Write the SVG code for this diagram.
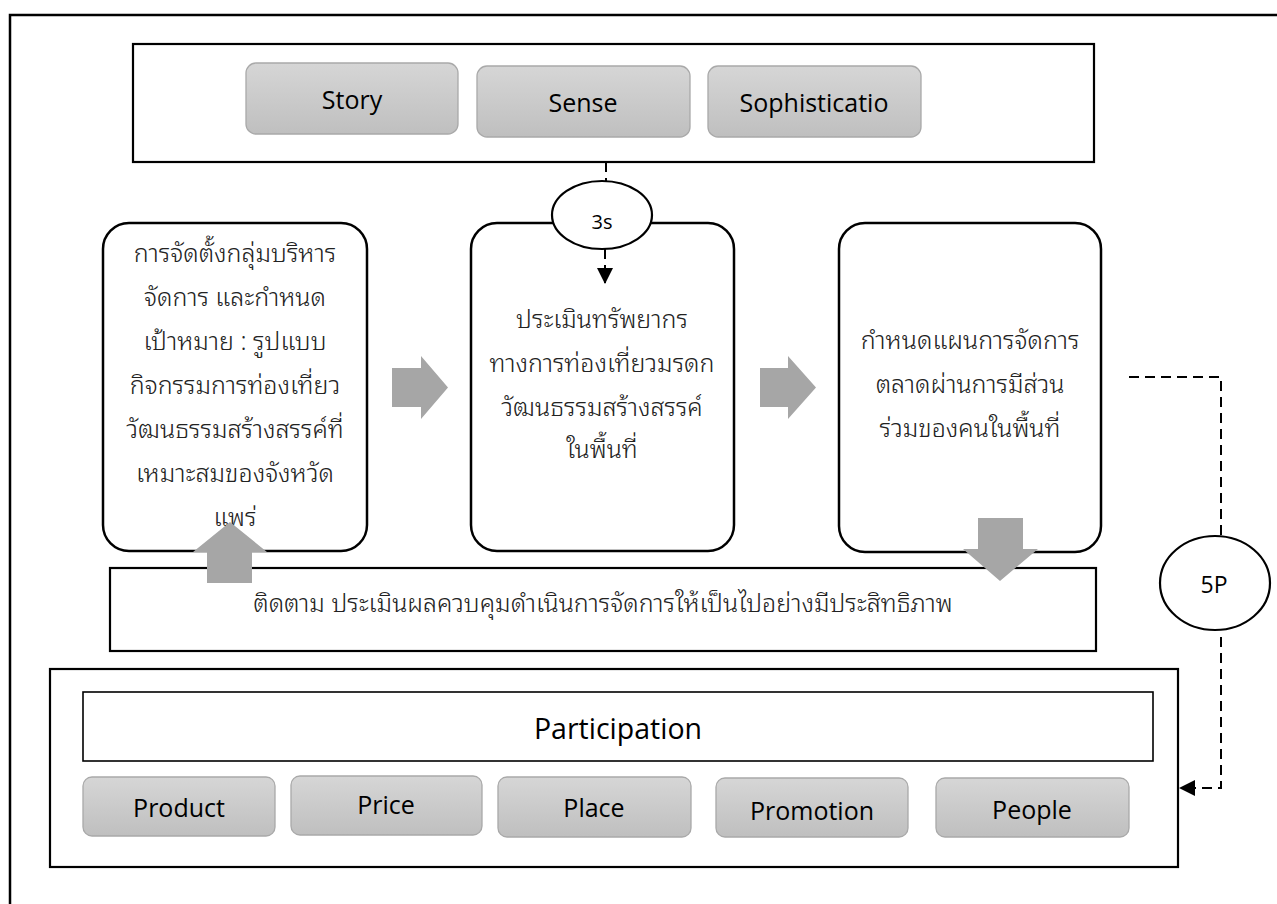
<svg xmlns="http://www.w3.org/2000/svg" width="1277" height="904" viewBox="0 0 1277 904">
<defs>
<linearGradient id="gbtn" x1="0" y1="0" x2="0" y2="1">
<stop offset="0" stop-color="#d6d6d6"/>
<stop offset="1" stop-color="#bfbfbf"/>
</linearGradient>
<marker id="ah" viewBox="0 0 16 16" refX="15" refY="8" markerWidth="16" markerHeight="16" markerUnits="userSpaceOnUse" orient="auto">
<path d="M0,0 L16,8 L0,16 Z" fill="#000"/>
</marker>
</defs>
<style>
.frame{fill:none;stroke:#000;stroke-width:2.5}
.box{fill:#fff;stroke:#000;stroke-width:2.2}
.rbox{fill:#fff;stroke:#000;stroke-width:2.5}
.btn{fill:url(#gbtn);stroke:#a9a9a9;stroke-width:1.3}
.lat{font-family:"Open Sans","Noto Sans",sans-serif;fill:#000;text-anchor:middle}
.th{font-family:"Noto Sans Thai Looped","Noto Sans Thai","Noto Sans","Noto Sans CJK SC",sans-serif;fill:#222;text-anchor:middle;font-size:25px;font-weight:300}
.arr{fill:#a6a6a6}
.dash{fill:none;stroke:#000;stroke-width:2;stroke-dasharray:10 6}
.ell{fill:#fff;stroke:#000;stroke-width:2.2}
</style>
<rect class="frame" x="10" y="15" width="1300" height="1000"/>

<g id="top-group">
<rect class="box" x="133" y="44" width="961" height="118"/>
</g>
<g id="story"><rect class="btn" x="246" y="63" width="212" height="71" rx="10"/><text class="lat" x="352" y="109" font-size="25">Story</text></g>
<g id="sense"><rect class="btn" x="477" y="66" width="213" height="71" rx="10"/><text class="lat" x="583" y="112" font-size="25">Sense</text></g>
<g id="sophistication"><rect class="btn" x="708" y="66" width="213" height="71" rx="10"/><text class="lat" x="814" y="112" font-size="25">Sophisticatio</text></g>

<g id="box1">
<rect class="rbox" x="103" y="223" width="264" height="328" rx="26"/>
<text class="th" x="235" y="262">การจัดตั้งกลุ่มบริหาร</text>
<text class="th" x="235" y="306">จัดการ และกำหนด</text>
<text class="th" x="235" y="350">เป้าหมาย : รูปแบบ</text>
<text class="th" x="235" y="394">กิจกรรมการท่องเที่ยว</text>
<text class="th" x="235" y="438">วัฒนธรรมสร้างสรรค์ที่</text>
<text class="th" x="235" y="482">เหมาะสมของจังหวัด</text>
<text class="th" x="235" y="526">แพร่</text>
</g>
<g id="box2">
<rect class="rbox" x="471" y="223" width="263" height="328" rx="26"/>
<text class="th" x="602" y="328">ประเมินทรัพยากร</text>
<text class="th" x="602" y="372">ทางการท่องเที่ยวมรดก</text>
<text class="th" x="602" y="416">วัฒนธรรมสร้างสรรค์</text>
<text class="th" x="602" y="458">ในพื้นที่</text>
</g>
<g id="box3">
<rect class="rbox" x="839" y="223" width="262" height="329" rx="26"/>
<text class="th" x="970" y="349">กำหนดแผนการจัดการ</text>
<text class="th" x="970" y="393">ตลาดผ่านการมีส่วน</text>
<text class="th" x="970" y="437">ร่วมของคนในพื้นที่</text>
</g>
<g id="monitor">
<rect class="box" x="110" y="568" width="986" height="83"/>
<text class="th" x="603" y="612">ติดตาม ประเมินผลควบคุมดำเนินการจัดการให้เป็นไปอย่างมีประสิทธิภาพ</text>
</g>

<g id="participation-group">
<rect class="box" x="50" y="669" width="1128" height="198"/>
</g>
<g id="participation">
<rect fill="#fff" stroke="#000" stroke-width="1.6" x="83" y="692" width="1070" height="69"/>
<text class="lat" x="618" y="739" font-size="28.5">Participation</text>
</g>
<g id="product"><rect class="btn" x="83" y="777" width="192" height="59" rx="9"/><text class="lat" x="179" y="817" font-size="25">Product</text></g>
<g id="price"><rect class="btn" x="291" y="776" width="191" height="59" rx="9"/><text class="lat" x="386" y="814" font-size="25">Price</text></g>
<g id="place"><rect class="btn" x="498" y="777" width="193" height="60" rx="9"/><text class="lat" x="594" y="817" font-size="25">Place</text></g>
<g id="promotion"><rect class="btn" x="716" y="778" width="192" height="59" rx="9"/><text class="lat" x="812" y="820" font-size="25">Promotion</text></g>
<g id="people"><rect class="btn" x="936" y="778" width="193" height="59" rx="9"/><text class="lat" x="1032" y="819" font-size="25">People</text></g>

<g id="connectors">
<path class="dash" d="M606,162 V181"/>
<path class="dash" d="M605,249 V283" marker-end="url(#ah)"/>
<path class="dash" d="M1129,377 H1221 V536"/>
<path class="dash" d="M1221,637 V788 H1180" marker-end="url(#ah)"/>
<polygon class="arr" points="392,368 421,368 421,356 448,387.5 421,419 421,407 392,407"/>
<polygon class="arr" points="760,368 788,368 788,356 816,387.5 788,419 788,407 760,407"/>
<polygon class="arr" points="207,583 207,552 193,552 230,522 267,552 252,552 252,583"/>
<polygon class="arr" points="978,518 1023,518 1023,549 1038,549 1000,581 963,549 978,549"/>
</g>

<g id="ellipse-3s"><ellipse class="ell" cx="602" cy="215" rx="50" ry="34"/><text class="lat" x="602" y="229" font-size="20">3s</text></g>
<g id="ellipse-5p"><ellipse class="ell" cx="1215" cy="583" rx="55" ry="47"/><text class="lat" x="1214" y="593" font-size="23">5P</text></g>
</svg>
